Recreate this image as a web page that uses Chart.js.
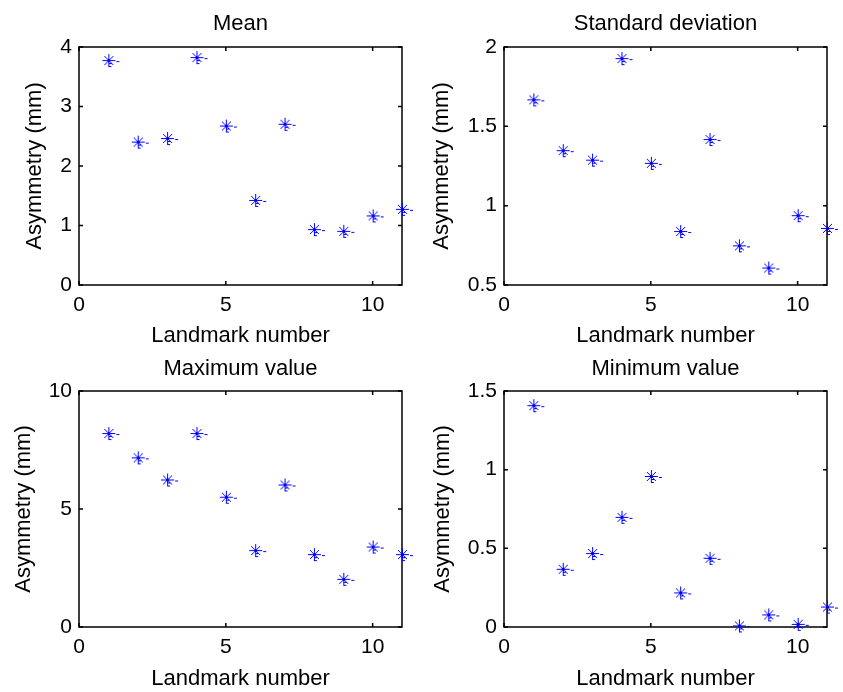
<!DOCTYPE html>
<html>
<head>
<meta charset="utf-8">
<script src="https://cdn.jsdelivr.net/npm/chart.js@4/dist/chart.umd.min.js"></script>
<style>
  body { margin: 0; background: #fff; overflow: hidden; }
  .panel { position: absolute; width: 418px; }
</style>
</head>
<body>
<div class="panel" style="left:0;top:0;height:349px"><canvas id="meanChart"></canvas></div>
<div class="panel" style="left:425px;top:0;height:349px"><canvas id="stdChart"></canvas></div>
<div class="panel" style="left:0;top:340px;height:352px"><canvas id="maxChart"></canvas></div>
<div class="panel" style="left:425px;top:340px;height:352px"><canvas id="minChart"></canvas></div>
<script>
// Данные
const landmarks = [1, 2, 3, 4, 5, 6, 7, 8, 9, 10, 11];
const meanValues = [3.78, 2.41, 2.47, 3.83, 2.68, 1.43, 2.71, 0.94, 0.91, 1.17, 1.28];
const stdValues = [1.67, 1.35, 1.29, 1.93, 1.27, 0.84, 1.42, 0.75, 0.61, 0.94, 0.86];
const maxValues = [8.22, 7.19, 6.25, 8.22, 5.52, 3.26, 6.04, 3.09, 2.04, 3.41, 3.09];
const minValues = [1.41, 0.37, 0.47, 0.70, 0.96, 0.22, 0.44, 0.01, 0.08, 0.02, 0.13];

const xTicks = [0, 5, 10];
const meanTicks = [0, 1, 2, 3, 4];
const stdTicks = [0.5, 1, 1.5, 2];
const maxTicks = [0, 5, 10];
const minTicks = [0, 0.5, 1, 1.5];

Chart.defaults.font.family = "'Liberation Sans', Arial, sans-serif";
Chart.defaults.font.size = 21;
Chart.defaults.color = '#000';

// Маркер '*' в стиле MATLAB
const starMarker = document.createElement('canvas');
starMarker.width = 26;
starMarker.height = 26;
(function () {
  const g = starMarker.getContext('2d');
  g.strokeStyle = '#0000ff';
  g.lineWidth = 1;
  const seg = (x1, y1, x2, y2) => { g.beginPath(); g.moveTo(x1, y1); g.lineTo(x2, y2); g.stroke(); };
  seg(13.5, 7, 13.5, 19);
  seg(7, 13.5, 20, 13.5);
  seg(9, 9, 18, 18);
  seg(18, 9, 9, 18);
  seg(21, 14.5, 24, 14.5);
  seg(13, 16.5, 16, 16.5);
  seg(13, 19.5, 16, 19.5);
})();

// Рамка и внутренние засечки
const framePlugin = {
  id: 'frame',
  beforeDatasetsDraw(chart) {
    const { ctx, chartArea: a, scales } = chart;
    ctx.save();
    ctx.strokeStyle = '#000';
    ctx.lineWidth = 1.5;
    ctx.strokeRect(a.left, a.top, a.right - a.left, a.bottom - a.top);
    const tl = 4;
    scales.x.ticks.forEach(t => {
      const px = scales.x.getPixelForValue(t.value);
      ctx.beginPath();
      ctx.moveTo(px, a.bottom); ctx.lineTo(px, a.bottom - tl);
      ctx.moveTo(px, a.top); ctx.lineTo(px, a.top + tl);
      ctx.stroke();
    });
    scales.y.ticks.forEach(t => {
      const py = scales.y.getPixelForValue(t.value);
      ctx.beginPath();
      ctx.moveTo(a.left, py); ctx.lineTo(a.left + tl, py);
      ctx.moveTo(a.right, py); ctx.lineTo(a.right - tl, py);
      ctx.stroke();
    });
    ctx.restore();
  }
};

function makePanel(id, title, values, yMin, yMax, yTicks, lay) {
  new Chart(document.getElementById(id), {
    type: 'scatter',
    data: {
      datasets: [{
        data: landmarks.map((x, i) => ({ x: x, y: values[i] })),
        pointStyle: starMarker,
        borderColor: '#0000ff',
        backgroundColor: '#0000ff',
        clip: false
      }]
    },
    options: {
      responsive: true,
      maintainAspectRatio: false,
      animation: false,
      layout: { padding: { left: 0, right: 16, top: 0, bottom: 0 } },
      plugins: {
        legend: { display: false },
        tooltip: { enabled: false }
      },
      scales: {
        x: {
          type: 'linear',
          min: 0,
          max: 11,
          grid: { display: false, drawTicks: false },
          border: { display: false },
          ticks: { padding: 8, callback: v => String(v) },
          title: {
            display: true,
            text: 'Landmark number',
            font: { size: 22 },
            padding: { top: 0, bottom: lay.xTitleBottom }
          },
          afterBuildTicks: s => { s.ticks = xTicks.map(v => ({ value: v })); },
          afterFit: s => { s.height = lay.xHeight; }
        },
        // верхняя ось только для заголовка, центрированного над областью графика
        x2: {
          type: 'linear',
          position: 'top',
          min: 0,
          max: 11,
          grid: { display: false, drawTicks: false },
          border: { display: false },
          ticks: { display: false },
          title: {
            display: true,
            text: title,
            font: { size: 22 },
            padding: { top: lay.titleTop, bottom: 0 }
          },
          afterFit: s => { s.height = lay.titleHeight; }
        },
        y: {
          type: 'linear',
          min: yMin,
          max: yMax,
          grid: { display: false, drawTicks: false },
          border: { display: false },
          ticks: { padding: 7, callback: v => String(v) },
          title: {
            display: true,
            text: 'Asymmetry (mm)',
            font: { size: 22 },
            padding: { top: lay.yTitleLeft, bottom: 0 }
          },
          afterBuildTicks: s => { s.ticks = yTicks.map(v => ({ value: v })); },
          afterFit: s => { s.width = 79; }
        }
      }
    },
    plugins: [framePlugin]
  });
}

makePanel('meanChart', 'Mean', meanValues, 0, 4, meanTicks,
  { titleTop: 10.8, titleHeight: 47, xHeight: 64, xTitleBottom: 0, yTitleLeft: 21.8 });
makePanel('stdChart', 'Standard deviation', stdValues, 0.5, 2, stdTicks,
  { titleTop: 10.8, titleHeight: 47, xHeight: 64, xTitleBottom: 0, yTitleLeft: 3.8 });
makePanel('maxChart', 'Maximum value', maxValues, 0, 10, maxTicks,
  { titleTop: 15.4, titleHeight: 51, xHeight: 65, xTitleBottom: 0, yTitleLeft: 10.8 });
makePanel('minChart', 'Minimum value', minValues, 0, 1.5, minTicks,
  { titleTop: 15.4, titleHeight: 51, xHeight: 65, xTitleBottom: 0, yTitleLeft: 4.3 });
</script>
</body>
</html>
